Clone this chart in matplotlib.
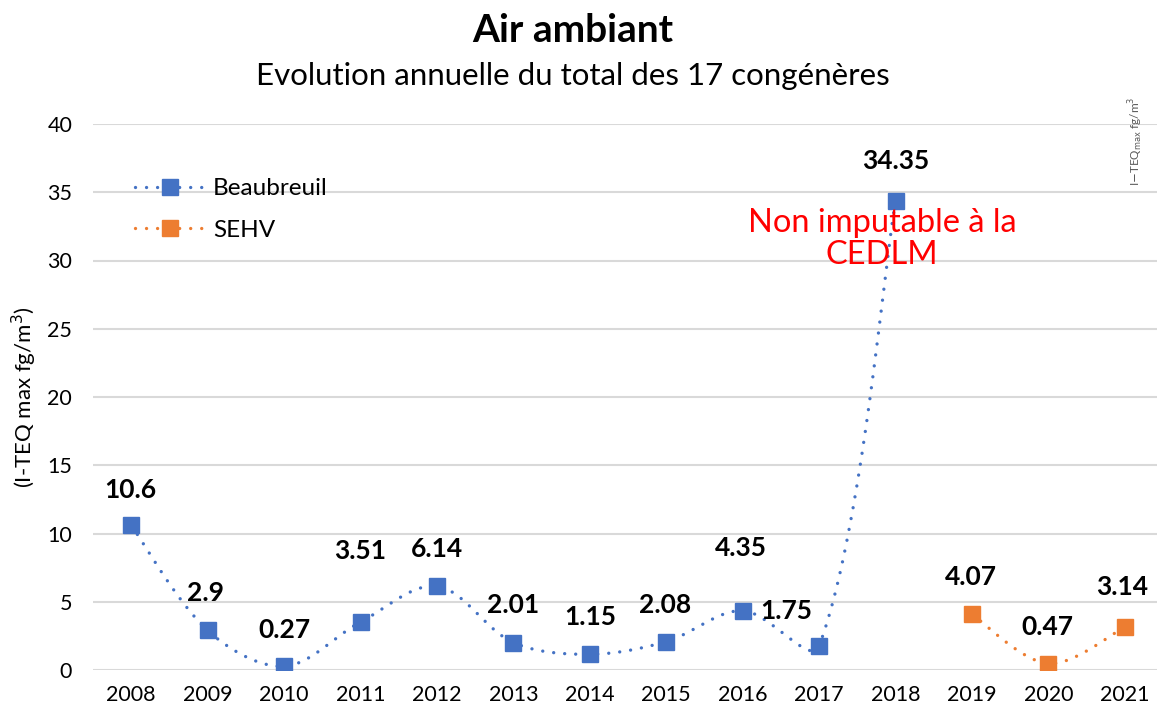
"""Air ambiant - evolution annuelle du total des 17 congeneres"""
import numpy as np
import matplotlib
matplotlib.use('Agg')
import matplotlib.pyplot as plt
from matplotlib.lines import Line2D

plt.rcParams['font.family'] = ['Lato', 'DejaVu Sans']

years = ['2008', '2009', '2010', '2011', '2012', '2013', '2014',
         '2015', '2016', '2017', '2018', '2019', '2020', '2021']
beaubreuil = [10.6, 2.9, 0.27, 3.51, 6.14, 2.01, 1.15, 2.08, 4.35, 1.75, 34.35]
sehv = [4.07, 0.47, 3.14]
labels = ['10.6', '2.9', '0.27', '3.51', '6.14', '2.01', '1.15',
          '2.08', '4.35', '1.75', '34.35', '4.07', '0.47', '3.14']
# label offsets in pixels (dx, dy) from the point
label_offsets = [(-1, 35), (-2, 37), (0, 36), (0, 71), (0, 37), (0, 38), (0, 37),
                 (-1, 37), (-2, 63), (-33, 35), (0, 40), (-1, 37), (-1, 37), (-3, 40)]

BLUE = '#4472C4'
ORANGE = '#ED7D31'
W, H = 1157, 711

def smooth(xs, ys, sx=76.46, sy=13.65, n=40):
  # bezier smoothing like excel, computed in pixel space
  p = np.column_stack([np.asarray(xs, float) * sx, np.asarray(ys, float) * sy])
  m = len(p)
  tin = np.zeros_like(p)
  tout = np.zeros_like(p)
  for i in range(m):
    if i == 0:
      tout[i] = (p[1] - p[0]) / 6
    elif i == m - 1:
      tin[i] = (p[i] - p[i - 1]) / 6
    else:
      d = p[i + 1] - p[i - 1]
      lp = np.hypot(*(p[i] - p[i - 1]))
      ln = np.hypot(*(p[i + 1] - p[i]))
      tout[i] = d * ln / (lp + ln) / 3
      tin[i] = d * lp / (lp + ln) / 3
  t = np.linspace(0, 1, n)[:, None]
  pts = []
  for i in range(m - 1):
    a, b, c, e = p[i], p[i] + tout[i], p[i + 1] - tin[i + 1], p[i + 1]
    seg = (1 - t) ** 3 * a + 3 * (1 - t) ** 2 * t * b + 3 * (1 - t) * t ** 2 * c + t ** 3 * e
    pts.append(seg if i == 0 else seg[1:])
  pts = np.vstack(pts)
  return pts[:, 0] / sx, pts[:, 1] / sy

fig = plt.figure(figsize=(W / 100, H / 100), dpi=100)
ax = fig.add_axes([93 / W, 41 / H, 1070 / W, 546 / H])

xb = np.arange(len(beaubreuil))
xs = np.arange(len(beaubreuil), len(years))
dots = dict(linewidth=2.4, linestyle=(0, (0.01, 3.3)), dash_capstyle='round')

for x, y, col in [(xb, beaubreuil, BLUE), (xs, sehv, ORANGE)]:
  sxp, syp = smooth(x, y)
  ax.plot(sxp, syp, color=col, zorder=2, **dots)
  ax.plot(x, y, linestyle='none', marker='s', markersize=11, color=col, zorder=3)

allvals = beaubreuil + sehv
for i, (lab, v) in enumerate(zip(labels, allvals)):
  dx, dy = label_offsets[i]
  ax.annotate(lab, (i, v), xytext=(dx, dy), textcoords='offset pixels',
              ha='center', va='center', fontsize=19, fontweight='bold', color='black', zorder=4)

ax.set_xlim(-0.5, len(years) - 0.5)
ax.set_ylim(0, 40)
ax.set_xticks(range(len(years)))
ax.set_xticklabels(years)
ax.set_yticks(range(0, 41, 5))
ax.tick_params(length=0, labelsize=15.5)
ax.tick_params(axis='y', pad=15)
ax.tick_params(axis='x', pad=11)
ax.grid(axis='y', color='#D9D9D9', linewidth=1.5)
ax.set_axisbelow(True)
for s in ax.spines.values():
  s.set_visible(False)

ax.set_ylabel('(I-TEQ max fg/m$^3$)', fontsize=16, labelpad=6)

handles = [Line2D([0], [0], color=BLUE, marker='s', markersize=11, **dots),
           Line2D([0], [0], color=ORANGE, marker='s', markersize=11, **dots)]
ax.legend(handles, ['Beaubreuil', 'SEHV'], loc='upper left',
          bbox_to_anchor=(42 / 1070, (587 - 171) / 546 + 76 / 546), frameon=False,
          fontsize=17.5, handlelength=2.9, handletextpad=0.3, labelspacing=0.85,
          borderpad=0, borderaxespad=0, numpoints=1)

fig.text(573 / W, 1 - 30 / H, 'Air ambiant', ha='center', va='center',
         fontsize=28, fontweight='bold')
fig.text(573 / W, 1 - 76 / H, 'Evolution annuelle du total des 17 congénères',
         ha='center', va='center', fontsize=22.5)
fig.text(882 / W, 1 - 239 / H, 'Non imputable à la\nCEDLM', ha='center', va='center',
         fontsize=23.5, color='red', linespacing=1.05)
fig.text(1136 / W, 1 - 141 / H, r'I$-$TEQ$_{\mathrm{max}}$ fg/m$^3$', rotation=90,
         ha='center', va='center', fontsize=8.5, color='#595959')

fig.savefig('out.png', dpi=100)
